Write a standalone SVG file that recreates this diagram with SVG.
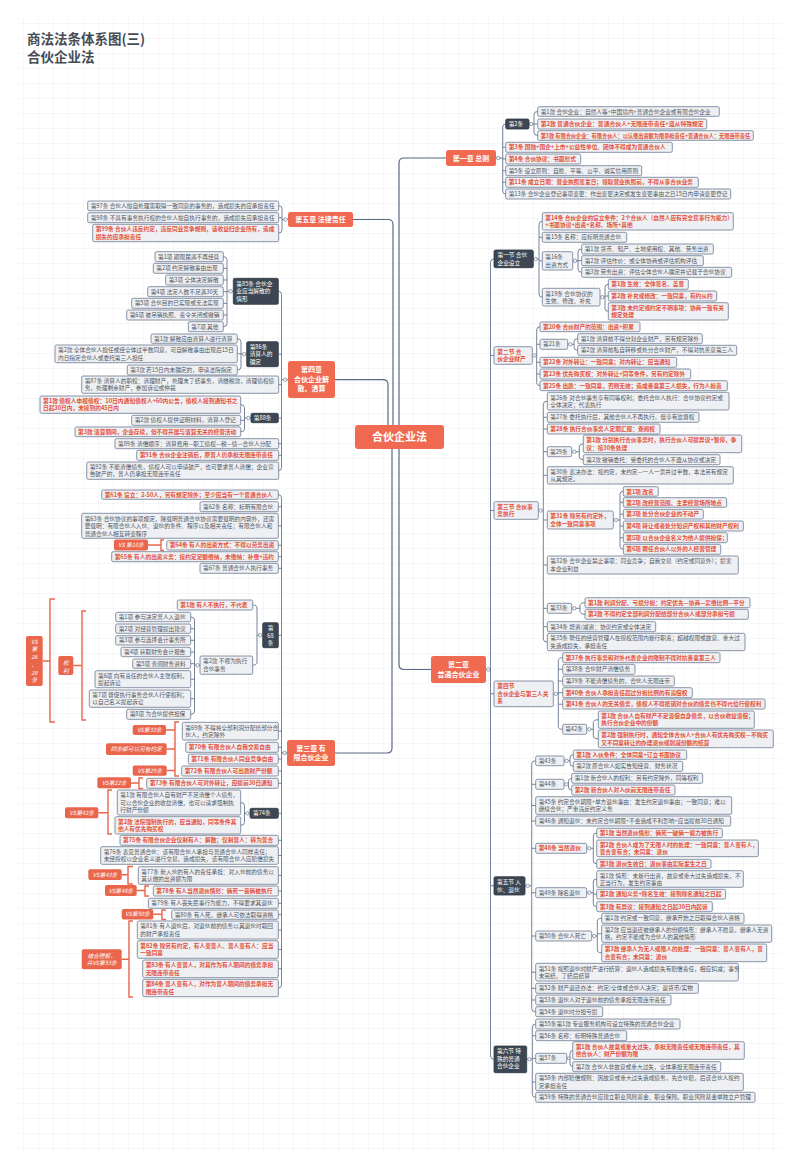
<svg xmlns="http://www.w3.org/2000/svg" width="800" height="1171" viewBox="0 0 800 1171">
<defs>
<pattern id="grid" width="15" height="15" patternUnits="userSpaceOnUse" x="8" y="8">
<path d="M15,0H0V15" fill="none" stroke="#e2e4e8" stroke-width="0.6"/>
</pattern>
<style>
text{font-family:"Noto Sans CJK SC","Noto Sans",sans-serif;font-size:5.7px}
.b{fill:#eef0f4;stroke:#6c7a90;stroke-width:.8;rx:1.5px}
.d{fill:#3c4753;stroke:#2f3943;stroke-width:.8;rx:1.5px}
.c{fill:#ef6a50;rx:2.5px}
.v{fill:#e9664d;rx:2px}
.g{fill:#4f5660}
.r{fill:#e5503a;font-weight:bold}
.w{fill:#fff}
.wc{fill:#fff;font-size:7px;font-weight:bold;text-anchor:middle}
.vi{fill:#fff;font-style:italic;text-anchor:middle}
.ln{fill:none;stroke:#66758e;stroke-width:.9}
.mn{fill:none;stroke:#5a6a86;stroke-width:1.2}
.br{fill:none;stroke:#e9664d;stroke-width:1.4}
.k{fill:#fff;stroke:#66758e;stroke-width:.7}
.ttl{font-size:13.5px;font-weight:bold;fill:#474c54}
</style>
</defs>
<rect width="800" height="1171" fill="#fff"/>
<rect x="18" y="18" width="764" height="1135" fill="url(#grid)"/>
<text class="ttl" x="27" y="44">商法法条体系图(三)</text>
<text class="ttl" x="27" y="62">合伙企业法</text>

<g id="connectors">
<path class="mn" d="M399,437V163Q399,158 404,158H446M399,437V664.5Q399,669.5 404,669.5H431M393,437V224.5Q393,219.5 388,219.5H353M388,437V384.7Q388,379.7 383,379.7H335M392,437V748Q392,753 387,753H335"/>
<path class="ln" d="M496,158H502.7M505.7,124Q502.7,124 502.7,127V191Q502.7,194 505.7,194M502.7,147.3H505.7M502.7,159H505.7M502.7,170.7H505.7M502.7,182.3H505.7"/>
<path class="ln" d="M529,124H534M537.7,111.5Q534,111.5 534,114.5V132.5Q534,135.5 537.7,135.5M534,124H537.7"/>
<path class="ln" d="M486,669.5H490.5M494,259Q490.5,259 490.5,262.5V1055.8Q490.5,1059.3 494,1059.3M490.5,355.5H494M490.5,510.5H494M490.5,693.8H494M490.5,885.8H494"/>
<path class="ln" d="M533.3,259H539M542.3,221.3Q539,221.3 539,224.3V294.2Q539,297.2 542.3,297.2M539,237.3H542.3M539,260.8H542.3"/>
<path class="ln" d="M572.7,260.8H578M581.7,249Q578,249 578,252V269.3Q578,272.3 581.7,272.3M578,260.7H581.7"/>
<path class="ln" d="M600,297.2H605M608.3,284.3Q605,284.3 605,287.3V308.3Q605,311.3 608.3,311.3M605,296H608.3"/>
<path class="ln" d="M532.3,355.5H536.7M540,326.8Q536.7,326.8 536.7,329.8V382.7Q536.7,385.7 540,385.7M536.7,344.3H540M536.7,362.3H540M536.7,374H540"/>
<path class="ln" d="M567.7,344.3H574M577.7,338.7Q574,338.7 574,341.7V347.3Q574,350.3 577.7,350.3"/>
<path class="ln" d="M538.3,510.5H543.3M547.3,401.2Q543.3,401.2 543.3,404.2V639Q543.3,642 547.3,642M543.3,417.3H547.3M543.3,429H547.3M543.3,451.7H547.3M543.3,475.3H547.3M543.3,520H547.3M543.3,565H547.3M543.3,608.3H547.3M543.3,626.7H547.3"/>
<path class="ln" d="M571.7,451.7H579.3M583.3,443.8Q579.3,443.8 579.3,446.8V456.7Q579.3,459.7 583.3,459.7"/>
<path class="ln" d="M613.3,520H620M623.3,491.3Q620,491.3 620,494.3V546.3Q620,549.3 623.3,549.3M620,502.3H623.3M620,514.2H623.3M620,526H623.3M620,537.7H623.3"/>
<path class="ln" d="M571.7,608.3H580M585,602.7Q580,602.7 580,605.7V611.3Q580,614.3 585,614.3"/>
<path class="ln" d="M553.3,693.8H558.3M562.7,657.7Q558.3,657.7 558.3,660.7V726.3Q558.3,729.3 562.7,729.3M558.3,669.3H562.7M558.3,681H562.7M558.3,692.7H562.7M558.3,704.2H562.7"/>
<path class="ln" d="M586.7,729.3H593.3M598.3,719.7Q593.3,719.7 593.3,722.7V735.8Q593.3,738.8 598.3,738.8"/>
<path class="ln" d="M525,885.8H531.7M535.7,760.8Q531.7,760.8 531.7,763.8V1008.7Q531.7,1011.7 535.7,1011.7M531.7,784.3H535.7M531.7,805.5H535.7M531.7,821H535.7M531.7,848.3H535.7M531.7,892.7H535.7M531.7,936H535.7M531.7,972.2H535.7M531.7,988.3H535.7M531.7,1000H535.7"/>
<path class="ln" d="M564,760.8H570M573.3,754.7Q570,754.7 570,757.7V763.3Q570,766.3 573.3,766.3"/>
<path class="ln" d="M564,784.3H568.5M571.7,778.3Q568.5,778.3 568.5,781.3V787Q568.5,790 571.7,790"/>
<path class="ln" d="M586.7,848.3H593.3M596.7,833Q593.3,833 593.3,836V860.8Q593.3,863.8 596.7,863.8"/>
<path class="ln" d="M586.7,892.7H593.3M596.7,879Q593.3,879 593.3,882V903.7Q593.3,906.7 596.7,906.7M593.3,894.2H596.7"/>
<path class="ln" d="M591.7,936H597.3M601.7,918.3Q597.3,918.3 597.3,921.3V949.8Q597.3,952.8 601.7,952.8M597.3,933.7H601.7"/>
<path class="ln" d="M526.7,1059.3H532.3M535.7,1024Q532.3,1024 532.3,1027V1094.3Q532.3,1097.3 535.7,1097.3M532.3,1035.7H535.7M532.3,1058.3H535.7M532.3,1082H535.7"/>
<path class="ln" d="M566.7,1058.3H570M572.7,1050.5Q570,1050.5 570,1053.5V1063.7Q570,1066.7 572.7,1066.7"/>
<path class="ln" d="M288,219.5H282M278.7,205.8Q282,205.8 282,208.8V230Q282,233 278.7,233M282,217.7H278.7"/>
<path class="ln" d="M288,379.7H281.5M278.3,291.3Q281.5,291.3 281.5,294.3V467.7Q281.5,470.7 278.3,470.7M281.5,354.2H278.3M281.5,384.7H278.3M281.5,418H278.3M281.5,443.7H278.3M281.5,455.3H278.3"/>
<path class="ln" d="M233.3,291.3H227M223.3,256.7Q227,256.7 227,259.7V323.7Q227,326.7 223.3,326.7M227,268.3H223.3M227,280H223.3M227,291.7H223.3M227,303.3H223.3M227,315H223.3"/>
<path class="ln" d="M246.7,354.2H241M237.3,338.7Q241,338.7 241,341.7V367Q241,370 237.3,370M241,353.8H237.3"/>
<path class="ln" d="M251,418H244.5M240.7,404.7Q244.5,404.7 244.5,407.7V428.8Q244.5,431.8 240.7,431.8M244.5,420.3H240.7"/>
<path class="ln" d="M287,753H281.5M278.3,494.7Q281.5,494.7 281.5,497.7V985Q281.5,988 278.3,988M281.5,506.7H278.3M281.5,525.8H278.3M281.5,545.3H278.3M281.5,556.7H278.3M281.5,568.3H278.3M281.5,635.2H278.3M281.5,731.2H278.3M281.5,747.3H278.3M281.5,759H278.3M281.5,771H278.3M281.5,783.3H278.3M281.5,813.3H278.3M281.5,840.3H278.3M281.5,855.5H278.3M281.5,875.5H278.3M281.5,891H278.3M281.5,903.3H278.3M281.5,914.7H278.3M281.5,930H278.3M281.5,949.5H278.3M281.5,968.8H278.3"/>
<path class="ln" d="M262.7,635.2H257M252.7,605Q257,605 257,608V662.2Q257,665.2 252.7,665.2"/>
<path class="ln" d="M200,665.2H194.5M190.7,617Q194.5,617 194.5,620V711.3Q194.5,714.3 190.7,714.3M194.5,628.7H190.7M194.5,640.3H190.7M194.5,652H190.7M194.5,663.7H190.7M194.5,679.2H190.7M194.5,698.7H190.7"/>
<path class="ln" d="M250,813.3H244.5M240.7,802.5Q244.5,802.5 244.5,805.5V822.3Q244.5,825.3 240.7,825.3"/>
<g class="k-dots">
<circle class="k" cx="498.2" cy="158" r="1.7"/><circle class="k" cx="531.2" cy="124" r="1.7"/><circle class="k" cx="488.2" cy="669.5" r="1.7"/>
<circle class="k" cx="535.7" cy="259" r="1.7"/><circle class="k" cx="575" cy="260.8" r="1.7"/><circle class="k" cx="602.3" cy="297.2" r="1.7"/>
<circle class="k" cx="534.5" cy="355.5" r="1.7"/><circle class="k" cx="570.3" cy="344.3" r="1.7"/><circle class="k" cx="540.6" cy="510.5" r="1.7"/>
<circle class="k" cx="574.3" cy="451.7" r="1.7"/><circle class="k" cx="616" cy="520" r="1.7"/><circle class="k" cx="574.3" cy="608.3" r="1.7"/>
<circle class="k" cx="555.8" cy="693.8" r="1.7"/><circle class="k" cx="589.3" cy="729.3" r="1.7"/><circle class="k" cx="527.8" cy="885.8" r="1.7"/>
<circle class="k" cx="566.6" cy="760.8" r="1.7"/><circle class="k" cx="566.4" cy="784.3" r="1.7"/><circle class="k" cx="589.3" cy="848.3" r="1.7"/>
<circle class="k" cx="589.3" cy="892.7" r="1.7"/><circle class="k" cx="594.3" cy="936" r="1.7"/><circle class="k" cx="529.4" cy="1059.3" r="1.7"/>
<circle class="k" cx="568.5" cy="1058.3" r="1.4"/>
<circle class="k" cx="285.5" cy="219.5" r="1.7"/><circle class="k" cx="285.2" cy="379.7" r="1.7"/><circle class="k" cx="230.6" cy="291.3" r="1.7"/>
<circle class="k" cx="244.2" cy="354.2" r="1.7"/><circle class="k" cx="248.3" cy="418" r="1.7"/><circle class="k" cx="284.6" cy="753" r="1.7"/>
<circle class="k" cx="260.2" cy="635.2" r="1.7"/><circle class="k" cx="197.5" cy="665.2" r="1.7"/><circle class="k" cx="247.5" cy="813.3" r="1.7"/>
</g>
</g>

<g id="annotations">
<path class="br" d="M164,540H161V550.5H164M148,545H161"/>
<path class="br" d="M179,722H175V776H179M166,730H175M166.7,749H175M166.7,770.5H175"/>
<path class="br" d="M143,778H139V788.5H143M131,783H139"/>
<path class="br" d="M112,790H108V834H112M98.3,812.8H108"/>
<path class="br" d="M133,866.5H128V884H133M121.7,874.7H128"/>
<path class="br" d="M149,886H145V896H149M136.7,890.5H145"/>
<path class="br" d="M166,910H162V919.5H166M153.3,914.3H162"/>
<path class="br" d="M133,921H129V997H133M121.7,959.3H129"/>
<path class="br" d="M86,611H82V720H86M73.3,665.5H82"/>
<path class="br" d="M55,599H50V722H55M42.7,661H50"/>
<g id="vs16"><rect class="v" x="114" y="539.5" width="34" height="11"/><text class="vi" x="131" y="547">VS 第16条</text></g>
<g id="vs33"><rect class="v" x="132.7" y="725" width="33.3" height="10"/><text class="vi" x="149.3" y="732">VS第33条</text></g>
<g id="four"><rect class="v" x="106" y="743.3" width="60.7" height="11.7"/><text class="vi" x="136.3" y="751.2">四条都可以另有约定</text></g>
<g id="vs25"><rect class="v" x="132.7" y="765.5" width="34" height="10.2"/><text class="vi" x="149.7" y="772.6">VS第25条</text></g>
<g id="vs22"><rect class="v" x="97.3" y="777.3" width="33.7" height="11"/><text class="vi" x="114.2" y="784.8">VS第22条</text></g>
<g id="vs42"><rect class="v" x="65" y="807.3" width="33.3" height="11"/><text class="vi" x="81.7" y="814.8">VS第42条</text></g>
<g id="vs43"><rect class="v" x="88.3" y="869.3" width="33.4" height="10.7"/><text class="vi" x="105" y="876.7">VS第43条</text></g>
<g id="vs48"><rect class="v" x="105" y="885" width="31.7" height="11"/><text class="vi" x="120.9" y="892.5">VS第48条</text></g>
<g id="vs50"><rect class="v" x="121.7" y="909" width="31.6" height="10.5"/><text class="vi" x="137.5" y="916.3">VS第50条</text></g>
<g id="vs53"><rect class="v" x="81.7" y="949.3" width="40" height="20"/><text class="vi" x="101.7" y="957.5">结合理解，</text><text class="vi" x="101.7" y="965">并VS第53条</text></g>
<g id="quanli"><rect class="v" x="58.3" y="656" width="15" height="19"/><text class="vi" x="65.8" y="664.5">权</text><text class="vi" x="65.8" y="672.5">利</text></g>
<g id="vs2629"><rect class="v" x="26" y="636" width="16.7" height="50"/><text class="vi" x="34.3" y="643.7">VS</text><text class="vi" x="34.3" y="651.3">第</text><text class="vi" x="34.3" y="659.3">26</text><text class="vi" x="34.3" y="667">、</text><text class="vi" x="34.3" y="674.7">29</text><text class="vi" x="34.3" y="682">条</text></g>
</g>

<g id="center"><rect class="c" x="355" y="425" width="89" height="24" style="rx:3px"/><text class="wc" x="399.5" y="441" style="font-size:11px">合伙企业法</text></g>

<g id="ch1"><rect class="c" x="446" y="150" width="50" height="16"/><text class="wc" x="471" y="160.5">第一章 总则</text></g>
<g id="a2"><rect class="d" x="505.7" y="119" width="23.3" height="10"/><text class="w" x="508.7" y="126">第2条</text></g>
<g id="a2-1"><rect class="b" x="537.7" y="106.7" width="181.6" height="9.6"/><text class="g" x="540.7" y="113.6">第1款 合伙企业：自然人等+中国境内+普通合伙企业或有限合伙企业</text></g>
<g id="a2-2"><rect class="b" x="537.7" y="119" width="169" height="10"/><text class="r" x="540.7" y="126" textLength="163" lengthAdjust="spacingAndGlyphs">第2款 普通合伙企业：普通合伙人+无限连带责任+遵从特殊规定</text></g>
<g id="a2-3"><rect class="b" x="537.7" y="130.7" width="215.6" height="9.6"/><text class="r" x="540.7" y="137.6" textLength="209.5" lengthAdjust="spacingAndGlyphs">第3款 有限合伙企业：有限合伙人：以认缴出资额为限承担责任+普通合伙人：无限连带责任</text></g>
<g id="a3"><rect class="b" x="505.7" y="142.3" width="166.6" height="10"/><text class="r" x="508.7" y="149.3">第3条 国独+国企+上市+公益性单位、团体不得成为普通合伙人</text></g>
<g id="a4"><rect class="b" x="505.7" y="154" width="75" height="10"/><text class="r" x="508.7" y="161">第4条 合伙协议：书面形式</text></g>
<g id="a5"><rect class="b" x="505.7" y="165.7" width="136" height="10"/><text class="g" x="508.7" y="172.7">第5条 设立原则：自愿、平等、公平、诚实信用原则</text></g>
<g id="a11"><rect class="b" x="505.7" y="177.3" width="192.6" height="10"/><text class="r" x="508.7" y="184.3">第11条 成立日期：营业执照签发日；领取营业执照前，不得从事合伙业务</text></g>
<g id="a13"><rect class="b" x="505.7" y="189" width="225" height="10"/><text class="g" x="508.7" y="196">第13条 合伙企业登记事项变更：作出变更决定或发生变更事由之日15日内申请变更登记</text></g>

<g id="ch2"><rect class="c" x="431" y="656" width="55" height="27"/><text class="wc" x="458.5" y="666.5">第二章</text><text class="wc" x="458.5" y="676.5">普通合伙企业</text></g>

<g id="s1"><rect class="d" x="494" y="250" width="39.3" height="17.7"/><text class="w" x="497.5" y="257.2">第一节 合伙</text><text class="w" x="497.5" y="264.5">企业设立</text></g>
<g id="a14"><rect class="b" x="542.3" y="212.7" width="191" height="17.3"/><text class="r" x="545.3" y="219.8">第14条 合伙企业的设立条件：2个合伙人（自然人应有完全民事行为能力）</text><text class="r" x="545.3" y="227.1">+书面协议+出资+名称、场所+其他</text></g>
<g id="a15"><rect class="b" x="542.3" y="232.3" width="84.4" height="10"/><text class="g" x="545.3" y="239.3">第15条 名称：应标明普通合伙</text></g>
<g id="a16"><rect class="b" x="542.3" y="251.7" width="30.4" height="18.3"/><text class="g" x="545.3" y="259">第16条</text><text class="g" x="545.3" y="266.5">出资方式</text></g>
<g id="a16-1"><rect class="b" x="581.7" y="244" width="131.6" height="10"/><text class="g" x="584.7" y="251">第1款 货币、知产、土地使用权、其他、劳务出资</text></g>
<g id="a16-2"><rect class="b" x="581.7" y="255.7" width="121.6" height="10"/><text class="g" x="584.7" y="262.7">第2款 评估作价：或全体协商或评估机构评估</text></g>
<g id="a16-3"><rect class="b" x="581.7" y="267.3" width="150" height="10"/><text class="g" x="584.7" y="274.3">第3款 劳务出资：评估全体合伙人确定并记载于合伙协议</text></g>
<g id="a19"><rect class="b" x="542.3" y="288.3" width="57.7" height="17.7"/><text class="g" x="545.3" y="295.5">第19条 合伙协议的</text><text class="g" x="545.3" y="302.8">生效、修改、补充</text></g>
<g id="a19-1"><rect class="b" x="608.3" y="279.3" width="80" height="10"/><text class="r" x="611.3" y="286.3">第1款 生效：全体签名、盖章</text></g>
<g id="a19-2"><rect class="b" x="608.3" y="291" width="108.4" height="10"/><text class="r" x="611.3" y="298">第2款 补充或修改：一致同意，有约从约</text></g>
<g id="a19-3"><rect class="b" x="608.3" y="302.7" width="120" height="17.3"/><text class="r" x="611.3" y="309.8">第3款 未约定或约定不明事项：协商一致有关</text><text class="r" x="611.3" y="317.1">规定处理</text></g>

<g id="s2"><rect class="b" x="494" y="346.7" width="38.3" height="17.6"/><text class="r" x="497.3" y="353.9">第二节 合</text><text class="r" x="497.3" y="361.2">伙企业财产</text></g>
<g id="a20"><rect class="b" x="540" y="322" width="100" height="9.7"/><text class="r" x="543" y="328.9">第20条 合伙财产的范围：出资+积累</text></g>
<g id="a21"><rect class="b" x="540" y="339.3" width="27.7" height="10"/><text class="g" x="543" y="346.3">第21条</text></g>
<g id="a21-1"><rect class="b" x="577.7" y="333.7" width="124.6" height="10"/><text class="g" x="580.7" y="340.7">第1款 清算前不得分割企业财产，另有规定除外</text></g>
<g id="a21-2"><rect class="b" x="577.7" y="345.3" width="159" height="10"/><text class="g" x="580.7" y="352.3">第2款 清算前私自转移或处分合伙财产，不得对抗善意第三人</text></g>
<g id="a22"><rect class="b" x="540" y="357.3" width="136.7" height="10"/><text class="r" x="543" y="364.3">第22条 对外转让：一致同意；对内转让：应当通知</text></g>
<g id="a23"><rect class="b" x="540" y="369" width="150.7" height="10"/><text class="r" x="543" y="376">第23条 优先购买权：对外转让+同等条件，另有约定除外</text></g>
<g id="a25"><rect class="b" x="540" y="380.7" width="187.3" height="10"/><text class="r" x="543" y="387.7">第25条 出质：一致同意，否则无效；造成善意第三人损失，行为人担责</text></g>

<g id="s3"><rect class="b" x="494" y="501.7" width="44.3" height="17.6"/><text class="r" x="497.3" y="508.9">第三节 合伙事</text><text class="r" x="497.3" y="516.2">务执行</text></g>
<g id="a26"><rect class="b" x="547.3" y="392.3" width="181.7" height="17.7"/><text class="g" x="550.3" y="399.5">第26条 对合伙事务享有同等权利；委托合伙人执行：合伙协议约定或</text><text class="g" x="550.3" y="406.8">全体决定；代表执行</text></g>
<g id="a27"><rect class="b" x="547.3" y="412.3" width="151.7" height="10"/><text class="g" x="550.3" y="419.3">第27条 委托执行后，其他合伙人不再执行，但享有监督权</text></g>
<g id="a28"><rect class="b" x="547.3" y="424" width="112.7" height="10"/><text class="r" x="550.3" y="431">第28条 执行合伙事务人定期汇报：查阅权</text></g>
<g id="a29"><rect class="b" x="547.3" y="446.7" width="24.4" height="10"/><text class="g" x="550" y="453.7">第29条</text></g>
<g id="a29-1"><rect class="b" x="583.3" y="435" width="158.4" height="17.7"/><text class="r" x="586.3" y="442.2">第1款 分别执行合伙事务时，执行合伙人可提异议+暂停，争</text><text class="r" x="586.3" y="449.5">议：按30条处理</text></g>
<g id="a29-2"><rect class="b" x="583.3" y="454.7" width="136.7" height="10"/><text class="g" x="586.3" y="461.7">第2款 撤销委托：受委托的合伙人不遵从协议或决定</text></g>
<g id="a30"><rect class="b" x="547.3" y="466.7" width="186" height="17.3"/><text class="g" x="550.3" y="473.8">第30条 表决办法：按约定，未约定—一人一票并过半数，本法另有规定</text><text class="g" x="550.3" y="481.1">从其规定。</text></g>
<g id="a31"><rect class="b" x="547.3" y="511" width="66" height="18"/><text class="r" x="550.3" y="518.3">第31条 除另有约定外，</text><text class="r" x="550.3" y="525.7">全体一致同意事项</text></g>
<g id="a31-1"><rect class="b" x="623.3" y="486.7" width="35" height="9.5"/><text class="r" x="626.3" y="493.5">第1项 改名</text></g>
<g id="a31-2"><rect class="b" x="623.3" y="497.7" width="103.4" height="9.5"/><text class="r" x="626.3" y="504.5">第2项 改经营范围、主要经营场所地点</text></g>
<g id="a31-3"><rect class="b" x="623.3" y="509.3" width="80" height="9.7"/><text class="r" x="626.3" y="516.2">第3项 处分合伙企业的不动产</text></g>
<g id="a31-4"><rect class="b" x="623.3" y="521" width="120" height="10"/><text class="r" x="626.3" y="528">第4项 转让或者处分知识产权和其他财产权利</text></g>
<g id="a31-5"><rect class="b" x="623.3" y="532.7" width="104" height="10"/><text class="r" x="626.3" y="539.7">第5项 以合伙企业名义为他人提供担保；</text></g>
<g id="a31-6"><rect class="b" x="623.3" y="544.3" width="97.4" height="10"/><text class="r" x="626.3" y="551.3">第6项 聘任合伙人以外的人经营管理</text></g>
<g id="a32"><rect class="b" x="547.3" y="556" width="191" height="18"/><text class="g" x="550.3" y="563.3">第32条 合伙企业禁止事项：同业竞争；自我交易（约定或同意外）；损害</text><text class="g" x="550.3" y="570.7">本企业利益</text></g>
<g id="a33"><rect class="b" x="547.3" y="603.3" width="24.4" height="10"/><text class="g" x="550" y="610.3">第33条</text></g>
<g id="a33-1"><rect class="b" x="585" y="597.7" width="165" height="10"/><text class="r" x="588" y="604.7">第1款 利润分配、亏损分担：约定优先—协商—实缴比例—平分</text></g>
<g id="a33-2"><rect class="b" x="585" y="609.3" width="163.3" height="10"/><text class="r" x="588" y="616.3">第2款 不得约定全部利润分配给部分合伙人或部分承担亏损</text></g>
<g id="a34"><rect class="b" x="547.3" y="621.7" width="108.4" height="10"/><text class="g" x="550.3" y="628.7">第34条 增资/减资：协议约定或全体决定</text></g>
<g id="a35"><rect class="b" x="547.3" y="633.3" width="197.7" height="17.4"/><text class="g" x="550.3" y="640.4">第35条 聘任的经营管理人在授权范围内履行职责；超越权限或故意、重大过</text><text class="g" x="550.3" y="647.7">失造成损失，承担责任</text></g>

<g id="s4"><rect class="b" x="494" y="681" width="59.3" height="25.7"/><text class="r" x="497.3" y="688.3">第四节</text><text class="r" x="497.3" y="695.6">合伙企业与第三人关</text><text class="r" x="497.3" y="702.9">系</text></g>
<g id="a37"><rect class="b" x="562.7" y="652.7" width="157.3" height="10"/><text class="r" x="565.7" y="659.7">第37条 执行事务和对外代表企业的限制不得对抗善意第三人</text></g>
<g id="a38"><rect class="b" x="562.7" y="664.3" width="72.3" height="10"/><text class="g" x="565.7" y="671.3">第38条 合伙财产清偿债务</text></g>
<g id="a39"><rect class="b" x="562.7" y="676" width="111.6" height="10"/><text class="g" x="565.7" y="683">第39条 不能清偿债务的，合伙人无限连带</text></g>
<g id="a40"><rect class="b" x="562.7" y="687.7" width="129.6" height="10"/><text class="r" x="565.7" y="694.7">第40条 合伙人承担责任超过分担比例的有追偿权</text></g>
<g id="a41"><rect class="b" x="562.7" y="699" width="202.3" height="10"/><text class="r" x="565.7" y="706">第41条 合伙人的无关债务，债权人不得抵销对合伙的债务也不得代位行使权利</text></g>
<g id="a42"><rect class="b" x="562.7" y="724.3" width="24" height="10"/><text class="g" x="565.2" y="731.3">第42条</text></g>
<g id="a42-1"><rect class="b" x="598.3" y="711" width="156" height="17.3"/><text class="r" x="601.3" y="718.1">第1款 合伙人自有财产不足清偿自身债务，以合伙收益清偿；</text><text class="r" x="601.3" y="725.4">执行合伙企业中的份额</text></g>
<g id="a42-2"><rect class="b" x="598.3" y="730" width="175" height="17.7"/><text class="r" x="601.3" y="737.2">第2款 强制执行时，通知全体合伙人+合伙人有优先购买权—不购买</text><text class="r" x="601.3" y="744.5">又不同意转让的办理退伙或削减份额的结算</text></g>

<g id="s5"><rect class="d" x="494" y="876.7" width="31" height="18.3"/><text class="w" x="497" y="884">第五节 入</text><text class="w" x="497" y="891.5">伙、退伙</text></g>
<g id="a43"><rect class="b" x="535.7" y="756" width="28.3" height="9.7"/><text class="g" x="538.7" y="762.9">第43条</text></g>
<g id="a43-1"><rect class="b" x="573.3" y="750" width="113.4" height="9.3"/><text class="r" x="576.3" y="756.7">第1款 入伙条件：全体同意+订立书面协议</text></g>
<g id="a43-2"><rect class="b" x="573.3" y="761.3" width="109.4" height="10"/><text class="g" x="576.3" y="768.3">第2款 原合伙人如实告知经营、财务状况</text></g>
<g id="a44"><rect class="b" x="535.7" y="779.3" width="28.3" height="10"/><text class="g" x="538.7" y="786.3">第44条</text></g>
<g id="a44-1"><rect class="b" x="571.7" y="773.3" width="131" height="10"/><text class="g" x="574.7" y="780.3">第1款 新合伙人的权利：另有约定除外，同等权利</text></g>
<g id="a44-2"><rect class="b" x="571.7" y="785" width="103.3" height="10"/><text class="r" x="574.7" y="792">第2款 新合伙人对入伙前无限连带责任</text></g>
<g id="a45"><rect class="b" x="535.7" y="796.7" width="196" height="17.6"/><text class="g" x="538.7" y="803.9">第45条 约定合伙期限+单方退伙事由：发生约定退伙事由；一致同意；难以</text><text class="g" x="538.7" y="811.2">继续合伙；严重违反约定义务</text></g>
<g id="a46"><rect class="b" x="535.7" y="816" width="195" height="10"/><text class="g" x="538.7" y="823">第46条 通知退伙：未约定合伙期限+不会造成不利影响+应当提前30日通知</text></g>
<g id="a48"><rect class="b" x="535.7" y="843.3" width="51" height="10"/><text class="r" x="538.7" y="850.3">第48条 当然退伙</text></g>
<g id="a48-1"><rect class="b" x="596.7" y="828.3" width="125.6" height="9.4"/><text class="r" x="599.7" y="835">第1款 当然退伙情形：俩死一破俩一能力被执行</text></g>
<g id="a48-2"><rect class="b" x="596.7" y="840" width="161.6" height="16.7"/><text class="r" x="599.7" y="846.9">第2款 合伙人成为了无限人时的处理：一致同意：普人变有人，</text><text class="r" x="599.7" y="854">普合变有合；未同意：退伙</text></g>
<g id="a48-3"><rect class="b" x="596.7" y="859.3" width="114.3" height="9"/><text class="r" x="599.7" y="865.8">第3款 退伙生效日：退伙事由实际发生之日</text></g>
<g id="a49"><rect class="b" x="535.7" y="887.7" width="51" height="10"/><text class="g" x="538.7" y="894.7">第49条 除名退伙</text></g>
<g id="a49-1"><rect class="b" x="596.7" y="870.7" width="146.6" height="16.6"/><text class="g" x="599.7" y="877.6">第1款 情形：未履行出资，故意或重大过失造成损失，不</text><text class="g" x="599.7" y="884.7">正当行为，发生约定事由</text></g>
<g id="a49-2"><rect class="b" x="596.7" y="889.3" width="129" height="9.7"/><text class="r" x="599.7" y="896.2">第2款 通知义务+除名生效：接到除名通知之日起</text></g>
<g id="a49-3"><rect class="b" x="596.7" y="901.7" width="115.6" height="10"/><text class="r" x="599.7" y="908.7">第3款 有异议：接到通知之日起30日内起诉</text></g>
<g id="a50"><rect class="b" x="535.7" y="931" width="56" height="10"/><text class="g" x="538.7" y="938">第50条 合伙人死亡</text></g>
<g id="a50-1"><rect class="b" x="601.7" y="913.3" width="142.3" height="10"/><text class="g" x="604.7" y="920.3">第1款 约定或一致同意，继承开始之日取得合伙人资格</text></g>
<g id="a50-2"><rect class="b" x="601.7" y="925" width="170" height="17.3"/><text class="g" x="604.7" y="932.1">第2款 应当退还被继承人的份额情形：继承人不愿意，继承人无资</text><text class="g" x="604.7" y="939.4">格，约定不能成为合伙人的其他情形</text></g>
<g id="a50-3"><rect class="b" x="601.7" y="944" width="165" height="17.7"/><text class="r" x="604.7" y="951.2">第3款 继承人为无人或限人的处理：一致同意：普人变有人，普</text><text class="r" x="604.7" y="958.5">合变有合；未同意：退伙</text></g>
<g id="a51"><rect class="b" x="535.7" y="963.3" width="202.6" height="17.7"/><text class="g" x="538.7" y="970.5">第51条 按照退伙时财产进行结算：退伙人造成损失有赔偿责任，相应扣减；事务</text><text class="g" x="538.7" y="977.8">未完结，了结后结算</text></g>
<g id="a52"><rect class="b" x="535.7" y="983.3" width="162.6" height="10"/><text class="g" x="538.7" y="990.3">第52条 财产退还办法：约定/全体或合伙人决定；退货币/实物</text></g>
<g id="a53"><rect class="b" x="535.7" y="995" width="135.3" height="10"/><text class="g" x="538.7" y="1002">第53条 退伙人对于退伙前的债务承担无限连带责任</text></g>
<g id="a54"><rect class="b" x="535.7" y="1006.7" width="67" height="10"/><text class="g" x="538.7" y="1013.7">第54条 退伙时分担亏损</text></g>

<g id="s6"><rect class="d" x="494" y="1046" width="32.7" height="26.7"/><text class="w" x="497" y="1053.3">第六节 特</text><text class="w" x="497" y="1060.8">殊的普通</text><text class="w" x="497" y="1068.3">合伙企业</text></g>
<g id="a55"><rect class="b" x="535.7" y="1019" width="144.3" height="10"/><text class="g" x="538.7" y="1026">第55条第1款 专业服务机构可设立特殊的普通合伙企业</text></g>
<g id="a56"><rect class="b" x="535.7" y="1030.7" width="91" height="10"/><text class="g" x="538.7" y="1037.7">第56条 名称：标明特殊普通合伙</text></g>
<g id="a57"><rect class="b" x="535.7" y="1053.3" width="31" height="10"/><text class="g" x="538.7" y="1060.3">第57条</text></g>
<g id="a57-1"><rect class="b" x="572.7" y="1041.7" width="171.6" height="17.6"/><text class="r" x="575.7" y="1048.9">第1款 合伙人故意或重大过失，承担无限责任或无限连带责任，其</text><text class="r" x="575.7" y="1056.2">他合伙人：财产份额为限</text></g>
<g id="a57-2"><rect class="b" x="572.7" y="1061.7" width="148" height="10"/><text class="g" x="575.7" y="1068.7">第2款 合伙人非故意或重大过失，全体承担无限连带责任</text></g>
<g id="a58"><rect class="b" x="535.7" y="1073.3" width="207.6" height="17.4"/><text class="g" x="538.7" y="1080.4">第58条 内部赔偿规则：因故意或重大过失造成债务，先合伙赔，后该合伙人按约</text><text class="g" x="538.7" y="1087.7">定承担责任</text></g>
<g id="a59"><rect class="b" x="535.7" y="1092.3" width="219.3" height="10"/><text class="g" x="538.7" y="1099.3">第59条 特殊的普通合伙应建立职业风险基金、职业保险。职业风险基金单独立户管理</text></g>

<g id="ch5"><rect class="c" x="288" y="212" width="65" height="15"/><text class="wc" x="320.5" y="222">第五章 法律责任</text></g>
<g id="a97"><rect class="b" x="87.7" y="201" width="191" height="9.7"/><text class="g" x="90.7" y="207.9">第97条 合伙人擅自处理需取得一致同意的事务的，造成损失的应承担责任</text></g>
<g id="a98"><rect class="b" x="87.7" y="212.7" width="191" height="10"/><text class="g" x="90.7" y="219.7">第98条 不具有事务执行权的合伙人擅自执行事务的，造成损失应承担责任</text></g>
<g id="a99"><rect class="b" x="92.7" y="224.3" width="186" height="17.4"/><text class="r" x="95.7" y="231.4">第99条 合伙人违反约定，违反同业竞争规则，该收益归企业所有，造成</text><text class="r" x="95.7" y="238.7">损失的应承担责任</text></g>

<g id="ch4"><rect class="c" x="288" y="361" width="47" height="37"/><text class="wc" x="311.5" y="372">第四章</text><text class="wc" x="311.5" y="381.5">合伙企业解</text><text class="wc" x="311.5" y="391">散、清算</text></g>
<g id="a85"><rect class="d" x="233.3" y="278.3" width="45" height="26"/><text class="w" x="236.3" y="285.6">第85条 合伙企</text><text class="w" x="236.3" y="293.1">业应当解散的</text><text class="w" x="236.3" y="300.6">情形</text></g>
<g id="a85-1"><rect class="b" x="155" y="251.7" width="68.3" height="10"/><text class="g" x="158" y="258.7">第1项 期限届满不再经营</text></g>
<g id="a85-2"><rect class="b" x="153.3" y="263.3" width="70" height="10"/><text class="g" x="156.3" y="270.3">第2项 约定解散事由出现</text></g>
<g id="a85-3"><rect class="b" x="165.7" y="275" width="57.6" height="10"/><text class="g" x="168.7" y="282">第3项 全体决定解散</text></g>
<g id="a85-4"><rect class="b" x="147.7" y="286.7" width="75.6" height="10"/><text class="g" x="150.7" y="293.7">第4项 法定人数不足满30天</text></g>
<g id="a85-5"><rect class="b" x="131.7" y="298.3" width="91.6" height="10"/><text class="g" x="134.7" y="305.3">第5项 合伙目的已实现或无法实现</text></g>
<g id="a85-6"><rect class="b" x="126.7" y="310" width="96.6" height="10"/><text class="g" x="129.7" y="317">第6项 被吊销执照、责令关闭或撤销</text></g>
<g id="a85-7"><rect class="b" x="188.3" y="321.7" width="35" height="10"/><text class="g" x="191.3" y="328.7">第7项 其他</text></g>
<g id="a86"><rect class="d" x="246.7" y="341.7" width="31.6" height="25"/><text class="w" x="249.7" y="349">第86条</text><text class="w" x="249.7" y="356.3">清算人的</text><text class="w" x="249.7" y="363.6">确定</text></g>
<g id="a86-1"><rect class="b" x="151" y="334" width="86.3" height="9.3"/><text class="g" x="154" y="340.7">第1款 解散应由清算人进行清算</text></g>
<g id="a86-2"><rect class="b" x="55" y="345" width="182.3" height="17.7"/><text class="g" x="58" y="352.2">第2款 全体合伙人担任或经全体过半数同意，可自解散事由出现后15日</text><text class="g" x="58" y="359.5">内日指定合伙人或委托第三人担任</text></g>
<g id="a86-3"><rect class="b" x="127.3" y="365" width="110" height="10"/><text class="g" x="130.3" y="372">第3款 若15日内未确定的，申请法院指定</text></g>
<g id="a87"><rect class="b" x="81.7" y="376" width="197" height="17.3"/><text class="g" x="84.7" y="383.1">第87条 清算人的职权：清理财产，处理未了结事务，清缴税款，清理债权债</text><text class="g" x="84.7" y="390.4">务，处理剩余财产，参加诉讼或仲裁</text></g>
<g id="a88"><rect class="d" x="251" y="413.3" width="27.3" height="9.4"/><text class="w" x="253.8" y="420">第88条</text></g>
<g id="a88-1"><rect class="b" x="40" y="396" width="200.7" height="17.3"/><text class="r" x="43" y="403.1" textLength="194.5" lengthAdjust="spacingAndGlyphs">第1款 债权人申报债权：10日内通知债权人+60内公告，债权人接到通知书之</text><text class="r" x="43" y="410.4">日起30日内，未接到的45日内</text></g>
<g id="a88-2"><rect class="b" x="131.7" y="415.3" width="109" height="10"/><text class="g" x="134.7" y="422.3">第2款 债权人提供证明材料，清算人登记</text></g>
<g id="a88-3"><rect class="b" x="75" y="427" width="165.7" height="9.7"/><text class="r" x="78" y="433.9">第3款 清算期间，企业存续，但不得开展与清算无关的经营活动</text></g>
<g id="a89"><rect class="b" x="115" y="438.7" width="163.7" height="10"/><text class="g" x="118" y="445.7">第89条 清偿顺序：清算费用—职工债权—税—债—合伙人分配</text></g>
<g id="a91"><rect class="b" x="136.7" y="450.3" width="142" height="10"/><text class="r" x="139.7" y="457.3">第91条 合伙企业注销后，原普人仍承担无限连带责任</text></g>
<g id="a92"><rect class="b" x="86.7" y="462" width="192" height="17.3"/><text class="g" x="89.7" y="469.1">第92条 不能清偿债务，债权人可以申请破产，也可要求普人清偿；企业宣</text><text class="g" x="89.7" y="476.4">告破产的，普人仍承担无限连带责任</text></g>

<g id="ch3"><rect class="c" x="287" y="740" width="48" height="26"/><text class="wc" x="311" y="750.5">第三章 有</text><text class="wc" x="311" y="760">限合伙企业</text></g>
<g id="a61"><rect class="b" x="101.7" y="490" width="176.6" height="9.3"/><text class="r" x="104.7" y="496.7">第61条 设立：2-50人，另有规定除外；至少应当有一个普通合伙人</text></g>
<g id="a62"><rect class="b" x="200" y="501.7" width="78.3" height="10"/><text class="g" x="203" y="508.7">第62条 名称：标明有限合伙</text></g>
<g id="a63"><rect class="b" x="81.7" y="513.3" width="196.6" height="25"/><text class="g" x="84.7" y="520.5">第63条 合伙协议的事项规定，除载明普通合伙协议需要载明的内容外，还需</text><text class="g" x="84.7" y="528">要载明：有限合伙人入伙、退伙的条件、程序以及相关责任；有限合伙人和</text><text class="g" x="84.7" y="535.5">普通合伙人相互转变程序</text></g>
<g id="a64"><rect class="b" x="166.7" y="540.7" width="111.6" height="9.3"/><text class="r" x="169.7" y="547.4">第64条 有人的出资方式：不得以劳务出资</text></g>
<g id="a65"><rect class="b" x="111.7" y="551.7" width="166.6" height="10"/><text class="r" x="114.7" y="558.7">第65条 有人的出资义务：按约定足额缴纳，未缴纳：补缴+违约</text></g>
<g id="a67"><rect class="b" x="200" y="563.3" width="78.3" height="10"/><text class="g" x="203" y="570.3">第67条 普通合伙人执行事务</text></g>
<g id="a68"><rect class="d" x="262.7" y="622.7" width="15.6" height="25"/><text class="w" x="270.5" y="630" text-anchor="middle">第</text><text class="w" x="270.5" y="637.5" text-anchor="middle">68</text><text class="w" x="270.5" y="645" text-anchor="middle">条</text></g>
<g id="a68-1"><rect class="b" x="177.3" y="600" width="75.4" height="10"/><text class="r" x="180.3" y="607">第1款 有人不执行，不代表</text></g>
<g id="a68-2"><rect class="b" x="200" y="656" width="52.7" height="18.3"/><text class="g" x="203" y="663.3">第2款 不视为执行</text><text class="g" x="203" y="670.8">合伙事务</text></g>
<g id="a68-2-1"><rect class="b" x="115.7" y="612.3" width="75" height="9.4"/><text class="g" x="118.7" y="619">第1项 参与决定普人入退伙</text></g>
<g id="a68-2-2"><rect class="b" x="115.7" y="624" width="75" height="9.3"/><text class="g" x="118.7" y="630.7">第2项 对经营管理提出建议</text></g>
<g id="a68-2-3"><rect class="b" x="115.7" y="635.7" width="75" height="9.3"/><text class="g" x="118.7" y="642.4">第3项 参与选择会计事务所</text></g>
<g id="a68-2-4"><rect class="b" x="121" y="647.3" width="69.7" height="9.4"/><text class="g" x="124" y="654">第4项 获取财务会计报告</text></g>
<g id="a68-2-5"><rect class="b" x="132.7" y="659" width="58" height="9.3"/><text class="g" x="135.7" y="665.7">第5项 查阅财务资料</text></g>
<g id="a68-2-6"><rect class="b" x="95" y="670.7" width="95.7" height="17"/><text class="g" x="98" y="677.8">第6项 向有责任的合伙人主张权利，</text><text class="g" x="98" y="685">提起诉讼</text></g>
<g id="a68-2-7"><rect class="b" x="89.3" y="690" width="101.4" height="17.3"/><text class="g" x="92.3" y="697.1">第7项 督促执行事务合伙人行使权利；</text><text class="g" x="92.3" y="704.4">以自己名义提起诉讼</text></g>
<g id="a68-2-8"><rect class="b" x="126.7" y="709.3" width="64" height="10"/><text class="g" x="129.7" y="716.3">第8项 为合伙提供担保</text></g>
<g id="a69"><rect class="b" x="182.3" y="722.3" width="96" height="17.7"/><text class="g" x="185.3" y="729.5">第69条 不得将全部利润分配给部分合</text><text class="g" x="185.3" y="736.8">伙人，约定除外</text></g>
<g id="a70"><rect class="b" x="185.7" y="742.3" width="92.6" height="10"/><text class="r" x="188.7" y="749.3">第70条 有限合伙人自我交易自由</text></g>
<g id="a71"><rect class="b" x="188.3" y="754" width="90" height="10"/><text class="r" x="191.3" y="761">第71条 有限合伙人同业竞争自由</text></g>
<g id="a72"><rect class="b" x="181.7" y="766" width="96.6" height="10"/><text class="r" x="184.7" y="773">第72条 有限合伙人可出质财产份额</text></g>
<g id="a73"><rect class="b" x="146.7" y="778.3" width="131.6" height="10"/><text class="r" x="149.7" y="785.3">第73条 有限合伙人可对外转让，应提前30日通知</text></g>
<g id="a74"><rect class="d" x="250" y="808.3" width="28.3" height="10"/><text class="w" x="253" y="815.3">第74条</text></g>
<g id="a74-1"><rect class="b" x="117.3" y="790" width="123.4" height="25"/><text class="g" x="120.3" y="797.2">第1款 有限合伙人自有财产不足清偿个人债务，</text><text class="g" x="120.3" y="804.7">可以合伙企业的收益清偿，也可以请求强制执</text><text class="g" x="120.3" y="812.2">行财产份额</text></g>
<g id="a74-2"><rect class="b" x="115" y="816.7" width="125.7" height="17.3"/><text class="r" x="118" y="823.8">第2款 法院强制执行的，应当通知，同等条件其</text><text class="r" x="118" y="831.1">他人有优先购买权</text></g>
<g id="a75"><rect class="b" x="120" y="835.3" width="158.3" height="10"/><text class="r" x="123" y="842.3">第75条 有限合伙企业仅剩有人：解散；仅剩普人：转为普合</text></g>
<g id="a76"><rect class="b" x="100.7" y="846.7" width="177.6" height="17.6"/><text class="g" x="103.7" y="853.9">第76条 表见普通合伙：该有限合伙人承担与普通合伙人同样责任；</text><text class="g" x="103.7" y="861.2">未经授权以企业名义进行交易，造成损失，该有限合伙人应赔偿损失</text></g>
<g id="a77"><rect class="b" x="138.3" y="866.7" width="140" height="17.6"/><text class="g" x="141.3" y="873.9">第77条 新入伙的有人的责任承担：对入伙前的债务以</text><text class="g" x="141.3" y="881.2">其认缴的出资额为限</text></g>
<g id="a78"><rect class="b" x="153.3" y="886" width="125" height="10"/><text class="r" x="156.3" y="893">第78条 有人当然退伙情形：俩死一丧俩被执行</text></g>
<g id="a79"><rect class="b" x="148.3" y="898.3" width="130" height="10"/><text class="g" x="151.3" y="905.3">第79条 有人丧失民事行为能力，不得要求其退伙</text></g>
<g id="a80"><rect class="b" x="171.7" y="910" width="106.6" height="9.3"/><text class="g" x="174.7" y="916.7">第80条 有人死，继承人可依法取得资格</text></g>
<g id="a81"><rect class="b" x="137.3" y="921" width="141" height="18"/><text class="g" x="140.3" y="928.3">第81条 有人退伙后，对退伙前的债务以其退伙时取回</text><text class="g" x="140.3" y="935.7">的财产承担责任</text></g>
<g id="a82"><rect class="b" x="137.3" y="940.7" width="141" height="17.6"/><text class="r" x="140.3" y="947.9">第82条 除另有约定，有人变普人、普人变有人：应当</text><text class="r" x="140.3" y="955.2">一致同意</text></g>
<g id="a83"><rect class="b" x="142.7" y="960" width="135.6" height="17.7"/><text class="r" x="145.7" y="967.2">第83条 有人变普人，对其作为有人期间的债务承担</text><text class="r" x="145.7" y="974.5">无限连带责任</text></g>
<g id="a84"><rect class="b" x="142.7" y="979.3" width="135.6" height="17.4"/><text class="r" x="145.7" y="986.4">第84条 普人变有人，对作为普人期间的债务承担无</text><text class="r" x="145.7" y="993.7">限连带责任</text></g>
</svg>
